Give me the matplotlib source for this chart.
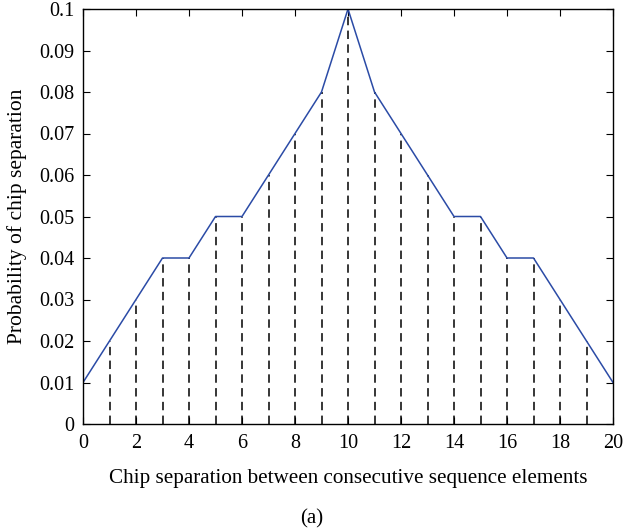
import matplotlib
matplotlib.use("Agg")
import matplotlib.pyplot as plt
import numpy as np

plt.rcParams["font.family"] = ["Liberation Serif", "DejaVu Serif"]

# Probability of each chip separation between consecutive elements
separation = list(range(0, 21))
probability = [0.01, 0.02, 0.03, 0.04, 0.04, 0.05, 0.05, 0.06, 0.07, 0.08, 0.10,
               0.08, 0.07, 0.06, 0.05, 0.05, 0.04, 0.04, 0.03, 0.02, 0.01]

x_ticks = list(range(0, 21, 2))
y_ticks = [0, 0.01, 0.02, 0.03, 0.04, 0.05, 0.06, 0.07, 0.08, 0.09, 0.1]
y_tick_labels = ["0", "0.01", "0.02", "0.03", "0.04", "0.05", "0.06", "0.07",
                 "0.08", "0.09", "0.1"]

fig = plt.figure(figsize=(6.23, 5.29), dpi=100)
ax = fig.add_axes([83 / 623, 1 - 424 / 529, 530 / 623, 415 / 529])

x = np.array(separation)
y = np.array(probability)

# dashed stems at the interior separations
ax.vlines(x[1:-1], 0, y[1:-1], colors="black", linestyles=(0, (5.5, 3.5)),
          linewidth=1.1)
ax.plot(x, y, color="#2b4ba6", linewidth=1.1)

ax.set_xlim(0, 20)
ax.set_ylim(0, 0.1)
ax.set_xticks(x_ticks)
ax.set_yticks(y_ticks)
ax.set_yticklabels(y_tick_labels)
ax.tick_params(direction="in", top=True, right=True, length=5, width=0.8,
               labelsize=14.5)
ax.tick_params(axis="x", pad=7)
ax.tick_params(axis="y", pad=6)
for spine in ax.spines.values():
    spine.set_linewidth(1.0)

ax.set_xlabel("Chip separation between consecutive sequence elements",
              fontsize=15.2, labelpad=12)
ax.set_ylabel("Probability of chip separation", fontsize=15.5, labelpad=9)

# panel tag centred on the whole figure
fig.text(0.5, 1 - 519 / 529, "(a)", ha="center", va="center", fontsize=15)

fig.savefig("out.png", dpi=100)
